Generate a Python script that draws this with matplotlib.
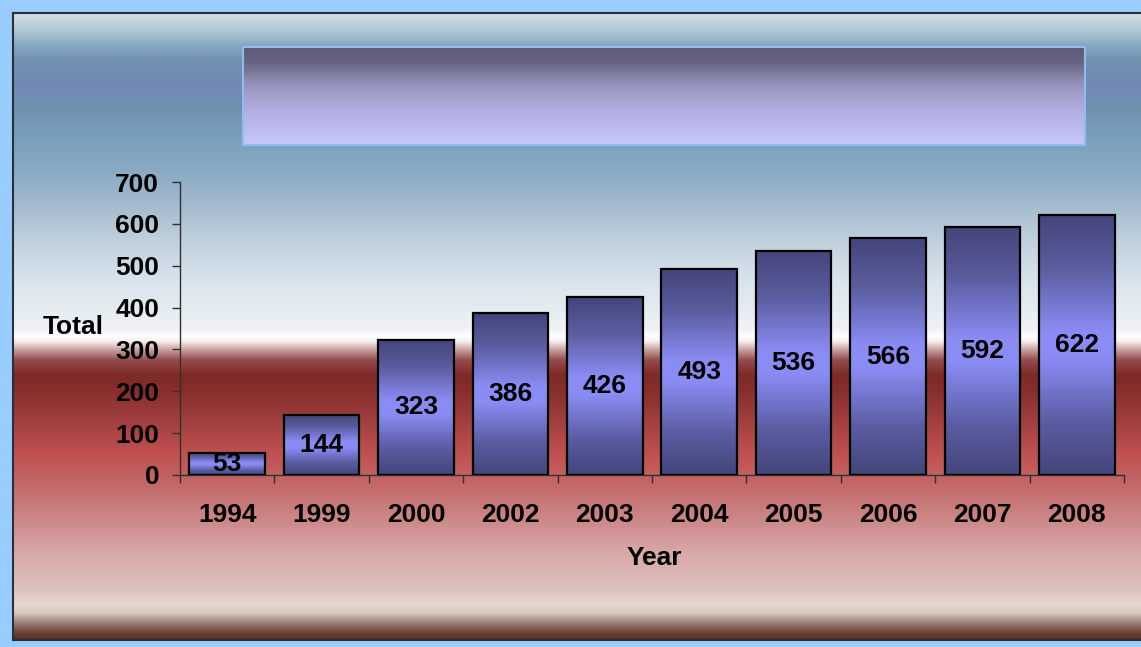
import numpy as np
import matplotlib
matplotlib.use("Agg")
import matplotlib.pyplot as plt
from matplotlib.colors import to_rgb
from matplotlib.patches import Rectangle

years = ['1994', '1999', '2000', '2002', '2003', '2004', '2005', '2006', '2007', '2008']
totals = [53, 144, 323, 386, 426, 493, 536, 566, 592, 622]
yticks = [0, 100, 200, 300, 400, 500, 600, 700]

W, H = 1141, 647
FS = 19
plt.rcParams['font.family'] = ['Liberation Sans', 'DejaVu Sans']
plt.rcParams['font.weight'] = 'bold'


def gradient(stops, n=800):
    # stops: (position 0..1 from top, colour)
    pos = np.array([s[0] for s in stops])
    cols = np.array([to_rgb(s[1]) for s in stops])
    t = np.linspace(0, 1, n)
    g = np.stack([np.interp(t, pos, cols[:, i]) for i in range(3)], axis=1)
    return g[:, None, :]


# background stops in pixel rows of the frame (13 .. 640)
bg_stops_px = [(13, '#d3e0e8'), (30, '#b0c8d4'), (45, '#88a8c0'), (60, '#7292b2'),
               (85, '#7288b4'), (110, '#7092b0'), (140, '#7aa0bc'), (170, '#8aaac4'),
               (200, '#a0b8cc'), (240, '#c0d0dc'), (280, '#d8e4ec'), (315, '#e8eef2'),
               (330, '#f2f2f8'), (336, '#ffffff'), (341, '#f8f0f0'), (350, '#c8a0a0'),
               (360, '#944c4c'), (375, '#7e2a28'), (390, '#862e2c'), (420, '#a03e3e'),
               (453, '#c05050'), (487, '#c46a6a'), (520, '#cc8888'), (553, '#d8a8a8'),
               (587, '#dcc0bc'), (605, '#e6d6d0'), (613, '#dccac2'), (622, '#a08880'),
               (633, '#704038'), (640, '#5a2c24')]
bg_stops = [((y - 13) / 627, c) for y, c in bg_stops_px]

fig = plt.figure(figsize=(W / 100, H / 100), dpi=100, facecolor='#99ccff')

# framed background
bg = fig.add_axes([13 / W, (H - 640) / H, (W - 13) / W + 0.02, 627 / H])
bg.imshow(gradient(bg_stops), aspect='auto', extent=[0, 1, 0, 1], interpolation='bilinear')
bg.set_xlim(0, 1)
bg.set_ylim(0, 1)
bg.set_xticks([])
bg.set_yticks([])
for s in bg.spines.values():
    s.set_color('#283038')
    s.set_linewidth(1.5)

# empty title box
tb = fig.add_axes([243 / W, (H - 145) / H, (1085 - 243) / W, (145 - 47) / H])
tb.imshow(gradient([(0, '#5c5a78'), (0.15, '#666482'), (0.4, '#9896be'),
                    (0.65, '#b2aee2'), (1, '#c8c8f8')]),
          aspect='auto', extent=[0, 1, 0, 1], interpolation='bilinear')
tb.set_xticks([])
tb.set_yticks([])
for s in tb.spines.values():
    s.set_color('#90bcf0')
    s.set_linewidth(1.5)

# main chart
ax = fig.add_axes([180 / W, (H - 475) / H, 944 / W, 293 / H])
ax.patch.set_alpha(0)
bar_grad = gradient([(0, '#44457a'), (0.2, '#5a5c9e'), (0.45, '#8a8cf4'),
                     (0.55, '#8a8cf4'), (0.8, '#5a5ca2'), (1, '#44457a')])
x = np.arange(len(years))
for i, v in zip(x, totals):
    ax.imshow(bar_grad, aspect='auto', extent=[i - 0.4, i + 0.4, 0, v],
              interpolation='bilinear', zorder=2)
    ax.add_patch(Rectangle((i - 0.4, 0), 0.8, v, facecolor='none',
                           edgecolor='black', linewidth=1.6, zorder=3))
    ax.text(i, v / 2, str(v), ha='center', va='center', fontsize=FS,
            fontweight='bold', zorder=4)

ax.set_xlim(-0.5, len(years) - 0.5)
ax.set_ylim(0, 700)
ax.set_xticks(x)
ax.set_xticklabels(years, fontsize=FS, fontweight='bold')
ax.set_xticks(np.arange(-0.5, len(years), 1), minor=True)
ax.tick_params(axis='x', which='major', length=0, pad=20)
ax.tick_params(axis='x', which='minor', length=6, width=1, direction='out', color='#303030')
ax.set_yticks(yticks)
ax.set_yticklabels([str(t) for t in yticks], fontsize=FS, fontweight='bold')
ax.tick_params(axis='y', length=6, width=1, direction='out', pad=9, color='#303030')
for side in ['top', 'right']:
    ax.spines[side].set_visible(False)
for side in ['left', 'bottom']:
    ax.spines[side].set_color('#303030')
    ax.spines[side].set_linewidth(1)

fig.text(73 / W, (H - 327) / H, 'Total', ha='center', va='center', fontsize=FS, fontweight='bold')
fig.text(654 / W, (H - 558) / H, 'Year', ha='center', va='center', fontsize=FS, fontweight='bold')

fig.savefig('out.png', dpi=100, facecolor=fig.get_facecolor())
